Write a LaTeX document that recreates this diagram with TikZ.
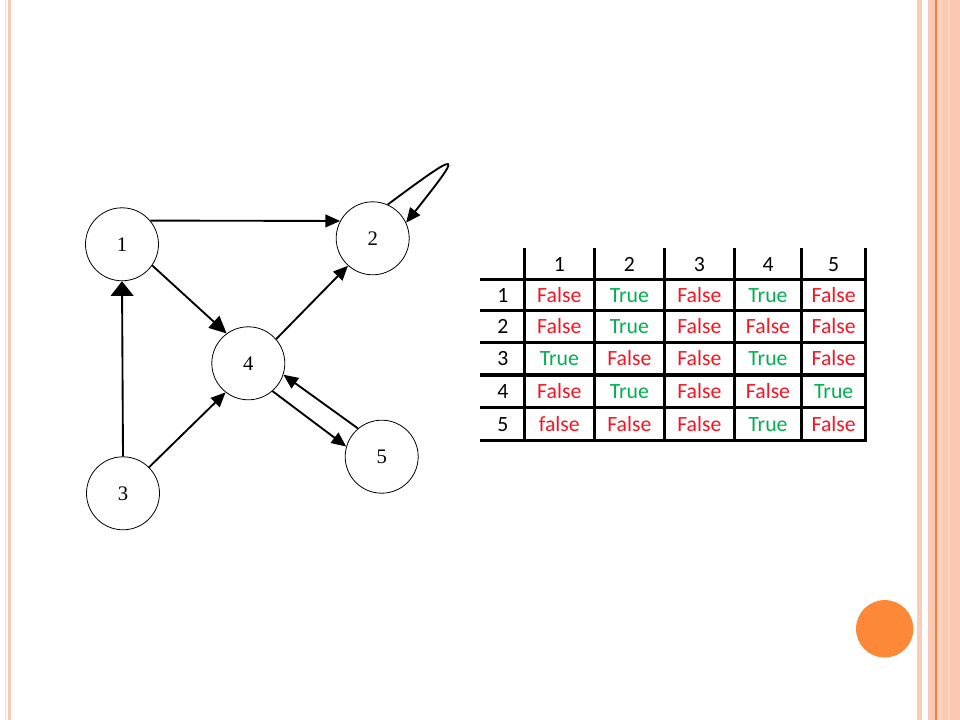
\documentclass[tikz,border=0pt]{standalone}
\usepackage{fontspec}
\usepackage{tikz}
\usetikzlibrary{arrows.meta}
\newfontfamily\vtxfont{Liberation Serif}
\newfontfamily\tabfont{Carlito}

\begin{document}
\begin{tikzpicture}[x=0.75pt,y=0.75pt,yscale=-1,xscale=1,
  vtx/.style={draw, circle, line width=0.6, minimum size=54.75pt, inner sep=0pt, font=\vtxfont\fontsize{15.5}{16}\selectfont},
  arc/.style={line width=1.4, -{Triangle[length=11pt,width=9.5pt]}},
  grid/.style={line width=2.4, line cap=rect},
  cell/.style={anchor=base, inner sep=0pt, font=\tabfont\fontsize{16.3}{18}\selectfont},
  ff/.style={cell, text={rgb, 255:red, 250; green, 20; blue, 35 }},
  tt/.style={cell, text={rgb, 255:red, 0; green, 176; blue, 80 }}
]
\path [use as bounding box] (0,0) rectangle (960,720);
%Shape: Rectangle [background]
\fill [color={rgb, 255:red, 255; green, 255; blue, 255 }] (0,0) rectangle (960,720);
%Shape: Rectangle [left border]
\fill [color={rgb, 255:red, 251; green, 214; blue, 198 }] (4.8,0) rectangle (6.4,720);
\fill [color={rgb, 255:red, 250; green, 200; blue, 180 }] (8,0) rectangle (11.2,720);
%Shape: Rectangle [right border]
\fill [color={rgb, 255:red, 251; green, 204; blue, 186 }] (917,0) rectangle (922,720);
\fill [color={rgb, 255:red, 251; green, 200; blue, 180 }] (928,0) rectangle (960,720);
\fill [color={rgb, 255:red, 252; green, 210; blue, 192 }] (938,0) rectangle (942,720);
\fill [color={rgb, 255:red, 252; green, 210; blue, 192 }] (948,0) rectangle (950,720);
\fill [color={rgb, 255:red, 240; green, 130; blue, 60 }] (935.3,0) rectangle (937,720);
%Shape: Circle [orange dot]
\fill [color={rgb, 255:red, 253; green, 137; blue, 56 }] (884.7,628.8) circle (28.7);

%Graph vertices
\node [vtx] (n1) at (122,244.3) {1};
\node [vtx] (n2) at (372.7,238.3) {2};
\node [vtx] (n3) at (123,493.3) {3};
\node [vtx] (n4) at (248.3,363.3) {4};
\node [vtx] (n5) at (381.7,456.7) {5};

%Straight Lines
\draw [arc] (n1.40) -- (n2.152);
\draw [arc, -{Triangle[length=13pt,width=12pt]}] (n1.-35) -- (n4.126);
\draw [arc, -{Triangle[length=11pt,width=17pt]}] (n3.north) -- (n1.south);
\draw [arc] (n3.45) -- (n4.-128);
\draw [arc] (n4.41) -- (n2.-132);
\draw [arc] (n4.-49) -- (n5.164);
\draw [arc] (n5.130) -- (n4.-18);
%Curve Lines [self loop]
\draw [arc] (n2.66) .. controls (465,147) and (462,152) .. (n2.25);

%Table lines
\draw [grid] (482,279.3) -- (865.7,279.3);
\draw [grid] (482,310.7) -- (865.7,310.7);
\draw [grid] (482,342.7) -- (865.7,342.7);
\draw [grid] (482,375) -- (865.7,375);
\draw [grid] (482,407.3) -- (865.7,407.3);
\draw [grid] (482,440.7) -- (865.7,440.7);
\draw [grid] (524.3,250) -- (524.3,440.7);
\draw [grid] (594.3,250) -- (594.3,440.7);
\draw [grid] (664.3,250) -- (664.3,440.7);
\draw [grid] (734.3,250) -- (734.3,440.7);
\draw [grid] (801.7,250) -- (801.7,440.7);
\draw [grid] (865.7,250) -- (865.7,440.7);

%Table header
\node [cell] (h1) at (559.3,271.5) {1};
\node [cell] (h2) at (629.3,271.5) {2};
\node [cell] (h3) at (699.3,271.5) {3};
\node [cell] (h4) at (768,271.5) {4};
\node [cell] (h5) at (833.7,271.5) {5};
\node [cell] (r1) at (503,302) {1};
\node [cell] (r2) at (503,333.7) {2};
\node [cell] (r3) at (503,365.8) {3};
\node [cell] (r4) at (503,398.2) {4};
\node [cell] (r5) at (503,431) {5};

%Row 1
\node [ff] (t11) at (559.3,302) {False};
\node [tt] (t12) at (629.3,302) {True};
\node [ff] (t13) at (699.3,302) {False};
\node [tt] (t14) at (768,302) {True};
\node [ff] (t15) at (833.7,302) {False};
%Row 2
\node [ff] (t21) at (559.3,333.7) {False};
\node [tt] (t22) at (629.3,333.7) {True};
\node [ff] (t23) at (699.3,333.7) {False};
\node [ff] (t24) at (768,333.7) {False};
\node [ff] (t25) at (833.7,333.7) {False};
%Row 3
\node [tt] (t31) at (559.3,365.8) {True};
\node [ff] (t32) at (629.3,365.8) {False};
\node [ff] (t33) at (699.3,365.8) {False};
\node [tt] (t34) at (768,365.8) {True};
\node [ff] (t35) at (833.7,365.8) {False};
%Row 4
\node [ff] (t41) at (559.3,398.2) {False};
\node [tt] (t42) at (629.3,398.2) {True};
\node [ff] (t43) at (699.3,398.2) {False};
\node [ff] (t44) at (768,398.2) {False};
\node [tt] (t45) at (833.7,398.2) {True};
%Row 5
\node [ff] (t51) at (559.3,431) {false};
\node [ff] (t52) at (629.3,431) {False};
\node [ff] (t53) at (699.3,431) {False};
\node [tt] (t54) at (768,431) {True};
\node [ff] (t55) at (833.7,431) {False};
\end{tikzpicture}
\end{document}
